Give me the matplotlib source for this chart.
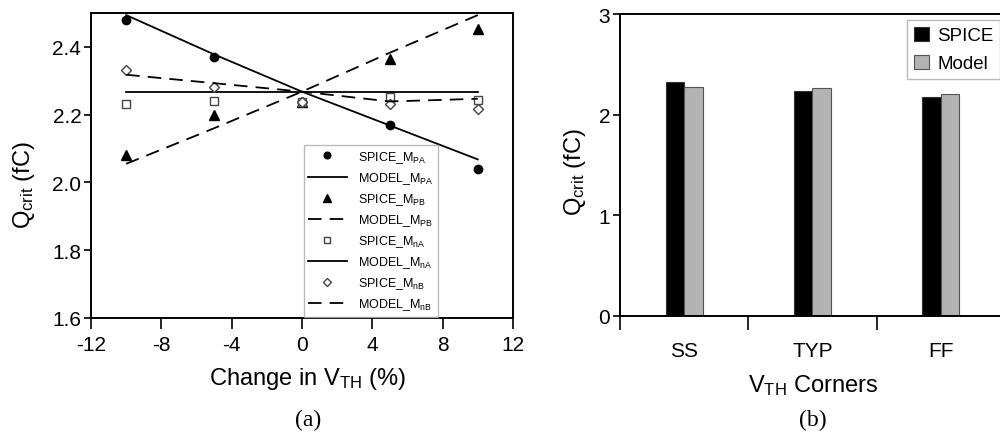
import matplotlib
matplotlib.use("Agg")
import matplotlib.pyplot as plt
import numpy as np

plt.rcParams["font.family"] = ["Liberation Sans", "DejaVu Sans"]
plt.rcParams["mathtext.fontset"] = "custom"
plt.rcParams["mathtext.rm"] = "Liberation Sans"
plt.rcParams["mathtext.it"] = "Liberation Sans"
plt.rcParams["axes.unicode_minus"] = False

# ---- panel (a) data ----
dvth = [-10, -5, 0, 5, 10]
spice_pa = [2.479, 2.370, 2.237, 2.171, 2.041]
model_pa = [2.494, 2.378, 2.268, 2.168, 2.068]
spice_pb = [2.080, 2.198, 2.237, 2.364, 2.452]
model_pb = [2.055, 2.160, 2.268, 2.383, 2.494]
spice_na = [2.231, 2.241, 2.237, 2.252, 2.244]
model_na = [2.268, 2.268, 2.268, 2.268, 2.268]
spice_nb = [2.332, 2.283, 2.237, 2.231, 2.218]
model_nb = [2.318, 2.293, 2.268, 2.239, 2.247]

# ---- panel (b) data ----
corners = ["SS", "TYP", "FF"]
bar_spice = [2.32, 2.24, 2.18]
bar_model = [2.27, 2.26, 2.21]

fig = plt.figure(figsize=(10, 4.35), dpi=100)

# =========================== (a) ===========================
axA = fig.add_axes([0.091, 0.2667, 0.422, 0.701])
DASH = (7.5, 4.5)
axA.plot(dvth, spice_pa, "o", color="black", ms=6, label=r"SPICE_M$_{\mathrm{PA}}$")
axA.plot(dvth, model_pa, "-", color="black", lw=1.3, label=r"MODEL_M$_{\mathrm{PA}}$")
axA.plot(dvth, spice_pb, "^", color="black", ms=6.5, label=r"SPICE_M$_{\mathrm{PB}}$")
axA.plot(dvth, model_pb, "--", color="black", lw=1.3, dashes=DASH,
         label=r"MODEL_M$_{\mathrm{PB}}$")
axA.plot(dvth, spice_na, "s", mfc="white", mec="#444444", mew=1.0, ms=6,
         label=r"SPICE_M$_{\mathrm{nA}}$")
axA.plot(dvth, model_na, "-", color="black", lw=1.3, label=r"MODEL_M$_{\mathrm{nA}}$")
axA.plot(dvth, spice_nb, "D", mfc="white", mec="#444444", mew=1.0, ms=5.5,
         label=r"SPICE_M$_{\mathrm{nB}}$")
axA.plot(dvth, model_nb, "--", color="black", lw=1.3, dashes=DASH,
         label=r"MODEL_M$_{\mathrm{nB}}$")

axA.set_xlim(-12, 12)
axA.set_ylim(1.6, 2.5)
axA.set_xticks(np.arange(-12, 13, 4))
axA.set_yticks([1.6, 1.8, 2.0, 2.2, 2.4])
axA.set_yticklabels(["1.6", "1.8", "2.0", "2.2", "2.4"])
axA.tick_params(axis="x", direction="out", length=8, width=1.2, labelsize=15, pad=4)
axA.tick_params(axis="y", direction="out", length=5, width=1.2, labelsize=15, pad=2)
for s in axA.spines.values():
    s.set_linewidth(1.4)
axA.set_xlabel(r"Change in V$_{\mathrm{TH}}$ (%)", fontsize=17)
axA.xaxis.set_label_coords(0.514, -0.155)
axA.set_ylabel(r"Q$_{\mathrm{crit}}$ (fC)", fontsize=17)
axA.yaxis.set_label_coords(-0.127, 0.44)

legA = axA.legend(loc="lower right", bbox_to_anchor=(0.822, 0.004), fontsize=9,
                  frameon=True, fancybox=False, edgecolor="#aaaaaa",
                  handlelength=3.1, handletextpad=0.9, labelspacing=0.42,
                  borderpad=0.35, borderaxespad=0.0, markerscale=0.8)
legA.get_frame().set_linewidth(1.0)

fig.text(0.308, 0.033, "(a)", fontsize=17, family="Liberation Serif",
         ha="center", va="center")

# =========================== (b) ===========================
axB = fig.add_axes([0.62, 0.2713, 0.385, 0.6942])
x = np.arange(len(corners))
w = 0.143
axB.bar(x - w / 2, bar_spice, w, color="black", edgecolor="#333333", lw=0.8,
        label="SPICE")
axB.bar(x + w / 2, bar_model, w, color="#b3b3b3", edgecolor="#555555", lw=0.8,
        label="Model")
axB.set_xlim(-0.5, 2.5)
axB.set_ylim(0, 3)
axB.set_yticks([0, 1, 2, 3])
axB.set_xticks([-0.5, 0.5, 1.5, 2.5])
axB.set_xticklabels([])
axB.set_xticks(x, minor=True)
axB.set_xticklabels(corners, minor=True)
axB.tick_params(axis="x", which="major", direction="out", length=10, width=1.2)
axB.tick_params(axis="x", which="minor", length=0, labelsize=15, pad=18)
axB.tick_params(axis="y", direction="out", length=5, width=1.2, labelsize=15, pad=2)
for s in axB.spines.values():
    s.set_linewidth(1.4)
axB.set_xlabel(r"V$_{\mathrm{TH}}$ Corners", fontsize=17)
axB.xaxis.set_label_coords(0.501, -0.185)
axB.set_ylabel(r"Q$_{\mathrm{crit}}$ (fC)", fontsize=17)
axB.yaxis.set_label_coords(-0.083, 0.48)

legB = axB.legend(loc="upper right", bbox_to_anchor=(0.987, 0.98), fontsize=13.5,
                  frameon=True, fancybox=False, edgecolor="#aaaaaa",
                  handlelength=0.8, handleheight=0.8, handletextpad=0.45,
                  labelspacing=0.55, borderpad=0.35, borderaxespad=0.0)
legB.get_frame().set_linewidth(1.0)

fig.text(0.813, 0.033, "(b)", fontsize=17, family="Liberation Serif",
         ha="center", va="center")

fig.savefig("out.png", dpi=100, facecolor="white")
